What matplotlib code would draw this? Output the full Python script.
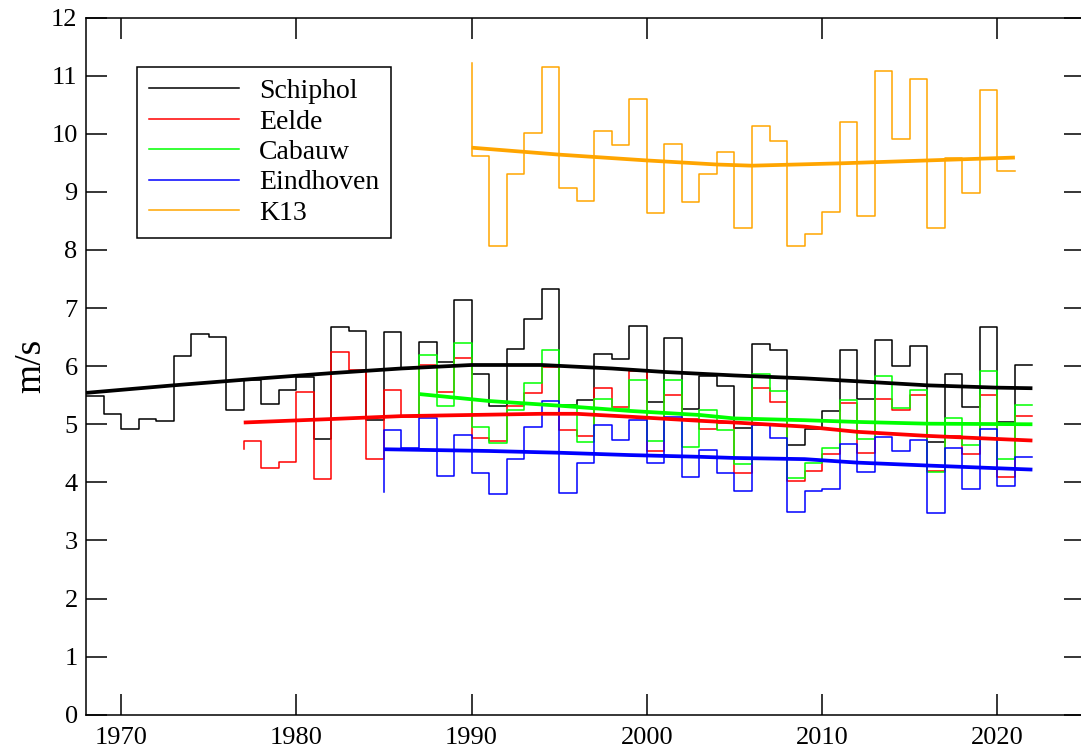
import numpy as np
import matplotlib
matplotlib.use("Agg")
from matplotlib import pyplot as plt

plt.rcParams['font.family'] = ['Liberation Serif', 'DejaVu Serif']

# jaarlijkse windsnelheid (m/s); eerste waarde = startpunt van de trap
schiphol_years = list(range(1968, 2023))
schiphol = [5.49, 5.49, 5.17, 4.91, 5.09, 5.05, 6.18, 6.55, 6.50, 5.25, 5.77,
            5.35, 5.59, 5.82, 4.75, 6.68, 6.61, 5.07, 6.59, 5.96, 6.41,
            6.08, 7.13, 5.86, 5.32, 6.30, 6.81, 7.32, 5.33, 5.42, 6.21,
            6.12, 6.69, 5.38, 6.49, 5.26, 5.83, 5.66, 4.94, 6.38, 6.27,
            4.64, 4.91, 5.23, 6.28, 5.43, 6.45, 6.01, 6.34, 4.70, 5.86,
            5.29, 6.68, 5.04, 6.02]

eelde_years = list(range(1977, 2023))
eelde = [4.58, 4.72, 4.25, 4.35, 5.56, 4.05, 6.24, 5.93, 4.41, 5.59, 5.12,
         6.02, 5.55, 6.14, 4.77, 4.72, 5.32, 5.53, 5.98, 4.90, 4.79,
         5.62, 5.30, 5.92, 4.54, 5.51, 5.09, 4.91, 5.03, 4.16, 5.62,
         5.38, 4.02, 4.20, 4.48, 5.36, 4.50, 5.43, 5.25, 5.50, 4.20,
         4.80, 4.48, 5.50, 4.09, 5.14]

cabauw_years = list(range(1987, 2023))
cabauw = [5.12, 6.20, 5.32, 6.40, 4.96, 4.68, 5.24, 5.71, 6.28, 5.33, 4.70,
          5.43, 5.27, 5.76, 4.71, 5.76, 4.61, 5.24, 4.90, 4.32, 5.86,
          5.58, 4.08, 4.34, 4.60, 5.42, 4.74, 5.83, 5.28, 5.59, 4.18,
          5.10, 4.64, 5.92, 4.41, 5.33]

eindhoven_years = list(range(1985, 2023))
eindhoven = [3.83, 4.90, 4.60, 5.10, 4.11, 4.81, 4.16, 3.80, 4.41, 4.95, 5.40,
             3.82, 4.34, 4.98, 4.73, 5.08, 4.34, 5.12, 4.09, 4.56, 4.16,
             3.86, 4.99, 4.76, 3.49, 3.86, 3.89, 4.66, 4.18, 4.78, 4.54,
             4.73, 3.48, 4.60, 3.89, 4.91, 3.94, 4.43]

k13_years = list(range(1990, 2022))
k13 = [11.21, 9.61, 8.06, 9.30, 10.01, 11.14, 9.06, 8.85, 10.04, 9.80, 10.60,
       8.63, 9.83, 8.82, 9.30, 9.68, 8.37, 10.13, 9.87, 8.06, 8.27,
       8.65, 10.21, 8.58, 11.08, 9.91, 10.94, 8.37, 9.59, 8.98, 10.75,
       9.35]

schiphol_tr_x = [1968, 1973, 1978, 1982, 1986, 1990, 1994, 1998, 2001, 2005, 2009, 2012, 2016, 2020, 2022]
schiphol_tr = [5.54, 5.67, 5.79, 5.88, 5.96, 6.02, 6.02, 5.96, 5.90, 5.84, 5.79, 5.74, 5.67, 5.63, 5.62]
eelde_tr_x = [1977, 1982, 1986, 1990, 1994, 1996, 1999, 2003, 2005, 2009, 2012, 2016, 2022]
eelde_tr = [5.03, 5.09, 5.14, 5.16, 5.18, 5.18, 5.13, 5.06, 5.03, 4.96, 4.87, 4.80, 4.72]
cabauw_tr_x = [1987, 1991, 1995, 1999, 2003, 2005, 2009, 2012, 2016, 2022]
cabauw_tr = [5.52, 5.40, 5.32, 5.23, 5.16, 5.10, 5.07, 5.04, 5.01, 5.00]
eindhoven_tr_x = [1985, 1991, 1995, 1999, 2003, 2005, 2009, 2012, 2016, 2022]
eindhoven_tr = [4.57, 4.54, 4.51, 4.47, 4.44, 4.42, 4.40, 4.34, 4.29, 4.22]
k13_tr_x = [1990, 1995, 2000, 2004, 2006, 2011, 2015, 2019, 2021]
k13_tr = [9.76, 9.64, 9.54, 9.47, 9.45, 9.49, 9.53, 9.57, 9.59]

names = ['Schiphol', 'Eelde', 'Cabauw', 'Eindhoven', 'K13']
colors = ['black', '#ff0000', '#00ff00', '#0000ff', '#ffa500']
steps = [(schiphol_years, schiphol), (eelde_years, eelde), (cabauw_years, cabauw),
         (eindhoven_years, eindhoven), (k13_years, k13)]
trends = [(schiphol_tr_x, schiphol_tr), (eelde_tr_x, eelde_tr), (cabauw_tr_x, cabauw_tr),
          (eindhoven_tr_x, eindhoven_tr), (k13_tr_x, k13_tr)]

fig = plt.figure(figsize=(10.81, 7.51), dpi=100)
ax = fig.add_axes([86 / 1081, 36.2 / 751, 999 / 1081, 697.3 / 751])

handles = []
for (x, y), c, n in zip(steps, colors, names):
    h, = ax.plot(x, y, drawstyle='steps-pre', color=c, lw=1.1, label=n)
    handles.append(h)
for (x, y), c in zip(trends, colors):
    ax.plot(x, y, color=c, lw=2.7, solid_capstyle='butt')

ax.set_xlim(1968, 2025)
ax.set_ylim(0, 12)
ax.set_xticks(range(1970, 2021, 10))
ax.set_yticks(range(0, 13))
ax.tick_params(direction='in', length=15, width=1.1, top=True, right=True,
               labelsize=19)
ax.tick_params(axis='x', pad=9)
ax.tick_params(axis='y', pad=6)
for s in ax.spines.values():
    s.set_linewidth(1.1)
ax.set_ylabel('m/s', fontsize=27, labelpad=2)

leg = ax.legend(handles=handles, loc='upper left', bbox_to_anchor=(0.051, 0.929),
                borderaxespad=0, fontsize=20, handlelength=3.24, handletextpad=0.74,
                borderpad=0.42, labelspacing=0.18, fancybox=False, framealpha=1,
                edgecolor='black')
leg.get_frame().set_linewidth(1.1)

fig.savefig('out.png', dpi=100)
